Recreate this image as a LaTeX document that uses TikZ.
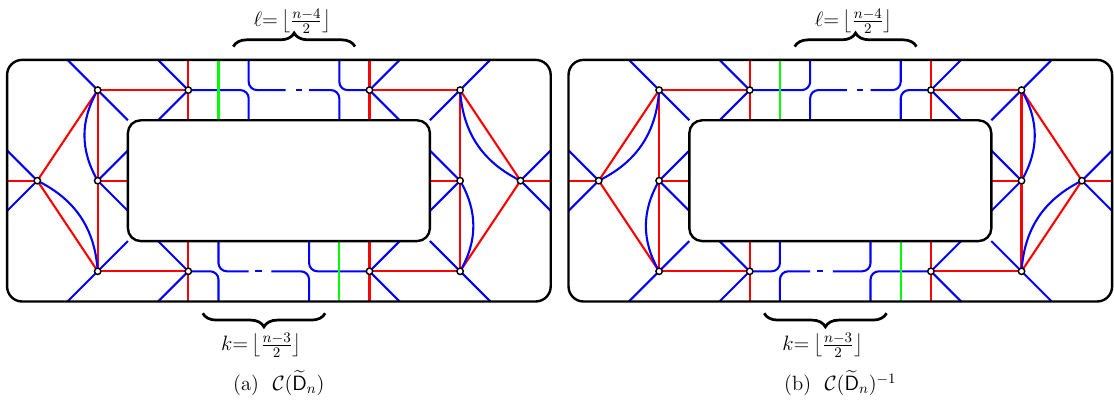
\RequirePackage{fix-cm}
\documentclass[tikz,border=0pt]{standalone}
\usepackage{amsmath}
\usetikzlibrary{decorations.pathreplacing}
\newcommand\panelcoords{%
  \coordinate (A) at (-2,0);  \coordinate (B) at (0,3);  \coordinate (C) at (0,0);
  \coordinate (D) at (0,-3);  \coordinate (E) at (3,3);  \coordinate (F) at (3,-3);
  \coordinate (G) at (9,3);   \coordinate (H) at (12,3); \coordinate (I) at (12,0);
  \coordinate (J) at (12,-3); \coordinate (K) at (9,-3); \coordinate (L) at (14,0);
  \foreach \x in {-1,2,3,4,5,8,9,10,13} {\coordinate (T\x) at (\x,4);}
  \foreach \x in {-1,2,3,4,7,8,9,10,13} {\coordinate (Bt\x) at (\x,-4);}
  \foreach \x in {1,2,3,4,5,8,9,10,11} {\coordinate (Ut\x) at (\x,2);}
  \foreach \x in {1,2,3,4,7,8,9,10,11} {\coordinate (Ub\x) at (\x,-2);}
  \foreach \y in {-1,0,1} {\coordinate (W\y) at (-3,\y); \coordinate (R\y) at (15,\y);
    \coordinate (IL\y) at (1,\y); \coordinate (IR\y) at (11,\y);}
  \coordinate (da1) at (6.22,3); \coordinate (da2) at (6.55,3);
  \coordinate (da3) at (6.75,3); \coordinate (da4) at (7.0,3);
  \coordinate (db1) at (5.0,-3); \coordinate (db2) at (5.22,-3);
  \coordinate (db3) at (5.43,-3); \coordinate (db4) at (5.75,-3);
  \coordinate (frA) at (-3,-4); \coordinate (frB) at (15,4);
  \coordinate (inA) at (1,-2); \coordinate (inB) at (11,2);
  \coordinate (brL1) at (4.49,4.44); \coordinate (brL2) at (8.52,4.44);
  \coordinate (brK1) at (7.53,-4.39); \coordinate (brK2) at (3.48,-4.39);
}
\newcommand\symlines{%
  % red
  \draw[rl] (W0) -- (A); \draw[rl] (A) -- (B); \draw[rl] (A) -- (D);
  \draw[rl] (B) -- (E);  \draw[rl] (B) -- (D); \draw[rl] (C) -- (IL0);
  \draw[rl] (D) -- (F);  \draw[rl] (T3) -- (Ut3); \draw[rl] (Ub3) -- (Bt3);
  \draw[rl] (T9) -- (Ut9); \draw[rl] (Ub9) -- (Bt9);
  \draw[rl] (G) -- (H);  \draw[rl] (K) -- (J); \draw[rl] (H) -- (J);
  \draw[rl] (I) -- (IR0); \draw[rl] (H) -- (L); \draw[rl] (J) -- (L);
  \draw[rl] (L) -- (R0);
  % blue
  \draw[bl] (W1) -- (A); \draw[bl] (W-1) -- (A);
  \draw[bl] (T-1) -- (B); \draw[bl] (B) -- (Ut1);
  \draw[bl] (IL1) -- (C) -- (IL-1);
  \draw[bl] (Bt-1) -- (D); \draw[bl] (D) -- (Ub1);
  \draw[bl] (T2) -- (E); \draw[bl] (E) -- (Ut2);
  \draw[bl] (Ub2) -- (F); \draw[bl] (F) -- (Bt2);
  \draw[bl] (G) -- (T10); \draw[bl] (G) -- (Ut10);
  \draw[bl] (K) -- (Ub10); \draw[bl] (K) -- (Bt10);
  \draw[bl] (H) -- (T13); \draw[bl] (H) -- (Ut11);
  \draw[bl] (IR1) -- (I) -- (IR-1);
  \draw[bl] (J) -- (Ub11); \draw[bl] (J) -- (Bt13);
  \draw[bl] (L) -- (R1); \draw[bl] (L) -- (R-1);
  \draw[bl] (da2) -- (da3); \draw[bl] (db2) -- (db3);
}
\newcommand\panelfinish{%
  \draw[gl] (T4) -- (Ut4); \draw[gl] (Ub8) -- (Bt8);
  \draw[innerbox] (inA) rectangle (inB);
  \draw[frame] (frA) rectangle (frB);
  \foreach \v in {A,B,C,D,E,F,G,H,I,J,K,L} {\node[vtx] (m\v) at (\v) {};}
  \draw[brc] (brL1) -- (brL2);
  \draw[brc] (brK1) -- (brK2);
  \node[lbl] (labl) at (6.45,5.28) {$\ell{=}\left\lfloor \frac{n-4}{2}\right\rfloor$};
  \node[lbl] (labk) at (5.42,-5.46) {$k{=}\left\lfloor \frac{n-3}{2}\right\rfloor$};
}
\begin{document}
\begin{tikzpicture}[x=0.6634cm,y=0.6634cm,
  rl/.style={red,line width=1.3pt},
  bl/.style={blue,line width=1.3pt},
  gl/.style={green,line width=1.3pt},
  bp/.style={blue,line width=1.3pt,rounded corners=5.2pt},
  frame/.style={line width=1.5pt,rounded corners=9.4pt},
  innerbox/.style={line width=1.5pt,fill=white,rounded corners=8pt},
  vtx/.style={circle,draw=black,fill=white,line width=0.9pt,inner sep=0pt,minimum size=4pt},
  brc/.style={decorate,decoration={brace,amplitude=8.5pt},line width=1.7pt},
  lbl/.style={inner sep=0pt,font=\fontsize{13}{15}\selectfont},
  captxt/.style={anchor=base,font=\fontsize{12.9}{15}\selectfont},
]
\useasboundingbox (-3.235,-7.394) rectangle (33.652,5.983);
% ---------- panel (a) ----------
\begin{scope}[name prefix=a-]
  \panelcoords
  \symlines
  \draw[bl] (A) to[bend left=30] (D);
  \draw[bl] (B) to[bend right=30] (C);
  \draw[bl] (H) to[bend right=30] (L);
  \draw[bl] (I) to[bend left=30] (J);
  \draw[bp] (E) -- (T5 |- E) -- (Ut5);
  \draw[bp] (T5) -- (T5 |- E) -- (da1);
  \draw[bp] (da4) -- (T8 |- E) -- (Ut8);
  \draw[bp] (T8) -- (T8 |- G) -- (G);
  \draw[bp] (F) -- (Bt4 |- F) -- (Bt4);
  \draw[bp] (Ub4) -- (Ub4 |- F) -- (db1);
  \draw[bp] (db4) -- (Ub7 |- F) -- (Bt7);
  \draw[bp] (Ub7) -- (Ub7 |- K) -- (K);
  \panelfinish
  \node[captxt] (cap) at (6,-6.96) {(a)~~$\mathcal{C}(\widetilde{\mathsf{D}}_n)$};
\end{scope}
% ---------- panel (b) ----------
\begin{scope}[shift={(18.59,0)},name prefix=b-]
  \panelcoords
  \symlines
  \draw[bl] (A) to[bend right=30] (B);
  \draw[bl] (C) to[bend right=30] (D);
  \draw[bl] (H) to[bend left=30] (I);
  \draw[bl] (J) to[bend left=30] (L);
  \draw[bp] (E) -- (T5 |- E) -- (T5);
  \draw[bp] (Ut5) -- (T5 |- E) -- (da1);
  \draw[bp] (da4) -- (T8 |- E) -- (T8);
  \draw[bp] (Ut8) -- (T8 |- G) -- (G);
  \draw[bp] (F) -- (Ub4 |- F) -- (Ub4);
  \draw[bp] (Bt4) -- (Bt4 |- F) -- (db1);
  \draw[bp] (db4) -- (Ub7 |- F) -- (Ub7);
  \draw[bp] (Bt7) -- (Bt7 |- K) -- (K);
  \panelfinish
  \node[captxt] (cap) at (6,-6.96) {(b)~~$\mathcal{C}(\widetilde{\mathsf{D}}_n)^{-1}$};
\end{scope}
\end{tikzpicture}
\end{document}
